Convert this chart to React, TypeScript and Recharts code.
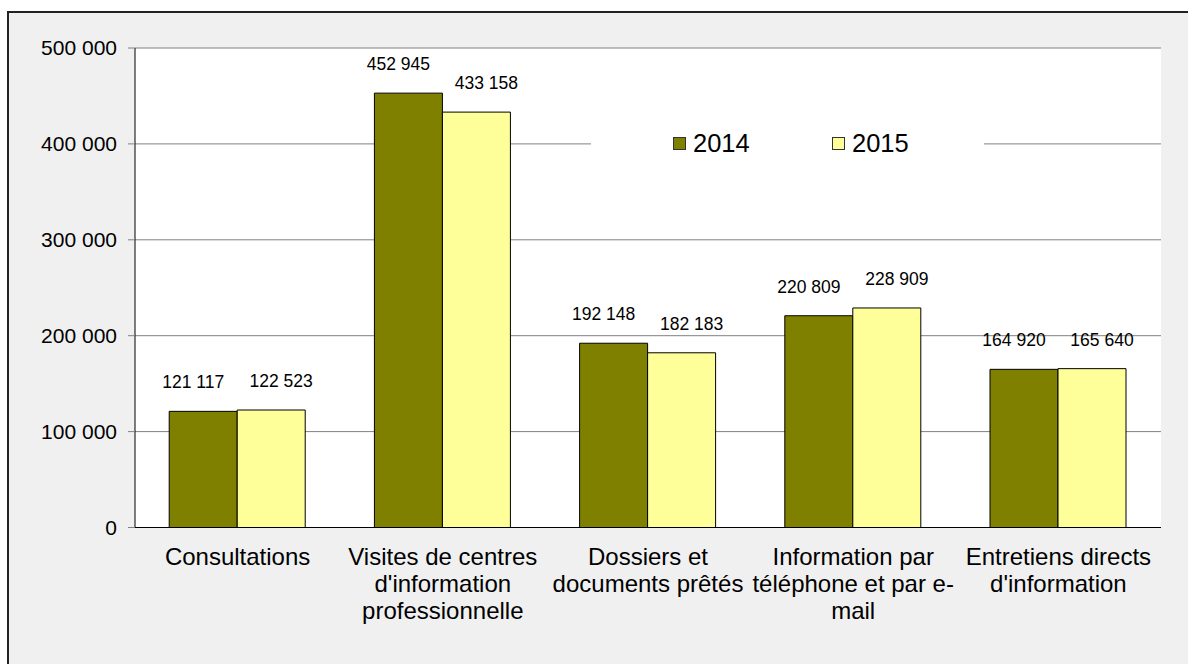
import React from 'react';
import { BarChart, Bar, XAxis, YAxis, CartesianGrid, Legend, LabelList } from 'recharts';

const categories = [
  'Consultations',
  "Visites de centres\nd'information\nprofessionnelle",
  'Dossiers et\ndocuments prêtés',
  'Information par\ntéléphone et par e-\nmail',
  "Entretiens directs\nd'information",
];
const series2014 = [121117, 452945, 192148, 220809, 164920];
const series2015 = [122523, 433158, 182183, 228909, 165640];
const seriesNames = ['2014', '2015'];
const yTicks = [0, 100000, 200000, 300000, 400000, 500000];

const data = categories.map((c, i) => ({ category: c, v2014: series2014[i], v2015: series2015[i] }));

const FONT = '"Liberation Sans", Arial, Helvetica, sans-serif';
const fmt = (n: number) => String(n).replace(/\B(?=(\d{3})+(?!\d))/g, ' ');

const makeLabel = (dx: number) => (props: any) => {
  const { x, y, width, value } = props;
  return (
    <text x={Number(x) + Number(width) / 2 + dx} y={Number(y) - 23} textAnchor="middle" fontSize={17.5} fill="#000" fontFamily={FONT}>
      {fmt(Number(value))}
    </text>
  );
};

const CatTick = (props: any) => {
  const { x, y, payload } = props;
  const lines = String(payload.value).split('\n');
  return (
    <text x={x} y={y} textAnchor="middle" fontSize={24} fill="#000" fontFamily={FONT}>
      {lines.map((l, i) => (
        <tspan key={i} x={x} dy={i === 0 ? 37 : 27}>{l}</tspan>
      ))}
    </text>
  );
};

const LegendBox = (props: any) => {
  const payload = props.payload || [];
  return (
    <div style={{ position: 'relative', width: 393, height: 40, background: '#fff', fontFamily: FONT }}>
      {payload.map((p: any, i: number) => (
        <div key={i} style={{ position: 'absolute', left: 82 + i * 159, top: 0, height: 40, display: 'flex', alignItems: 'center' }}>
          <span style={{ display: 'inline-block', width: 13, height: 13, background: p.color, border: '1px solid #333', boxSizing: 'border-box', marginRight: 7 }} />
          <span style={{ fontSize: 25.5, lineHeight: '40px', color: '#000' }}>{p.value}</span>
        </div>
      ))}
    </div>
  );
};

export default function App() {
  return (
    <div style={{ position: 'absolute', left: 7, top: 11, width: 1179, height: 651, background: '#F0F0F0', borderTop: '2px solid #222', borderLeft: '2px solid #222', fontFamily: FONT }}>
      <BarChart
        width={1179}
        height={651}
        data={data}
        margin={{ top: 35, right: 27, left: 0, bottom: 36.5 }}
        barCategoryGap="16.67%"
        barGap={0}
        style={{ fontFamily: FONT }}
      >
        <CartesianGrid horizontal vertical={false} stroke="#808080" fill="#fff" />
        <XAxis
          dataKey="category"
          height={60}
          axisLine={{ stroke: '#000' }}
          tickLine={false}
          tickSize={0}
          tickMargin={0}
          interval={0}
          tick={<CatTick />}
        />
        <YAxis
          width={126}
          domain={[0, 500000]}
          ticks={yTicks}
          interval={0}
          axisLine={{ stroke: '#000' }}
          tickLine={{ stroke: '#808080' }}
          tickSize={7}
          tickMargin={11}
          tickFormatter={(v: number) => fmt(v)}
          tick={{ fontSize: 21, fill: '#000', fontFamily: FONT }}
        />
        <YAxis
          yAxisId="right"
          orientation="right"
          width={0}
          domain={[0, 500000]}
          ticks={yTicks}
          tick={false}
          tickLine={false}
          axisLine={{ stroke: '#808080' }}
        />
        <Legend content={<LegendBox />} wrapperStyle={{ position: 'absolute', left: 582, top: 110, width: 393, height: 40 }} />
        <Bar dataKey="v2014" name={seriesNames[0]} fill="#808000" stroke="#000" strokeWidth={1} isAnimationActive={false}>
          <LabelList dataKey="v2014" content={makeLabel(-10)} />
        </Bar>
        <Bar dataKey="v2015" name={seriesNames[1]} fill="#FFFF99" stroke="#000" strokeWidth={1} isAnimationActive={false}>
          <LabelList dataKey="v2015" content={makeLabel(10)} />
        </Bar>
      </BarChart>
    </div>
  );
}
